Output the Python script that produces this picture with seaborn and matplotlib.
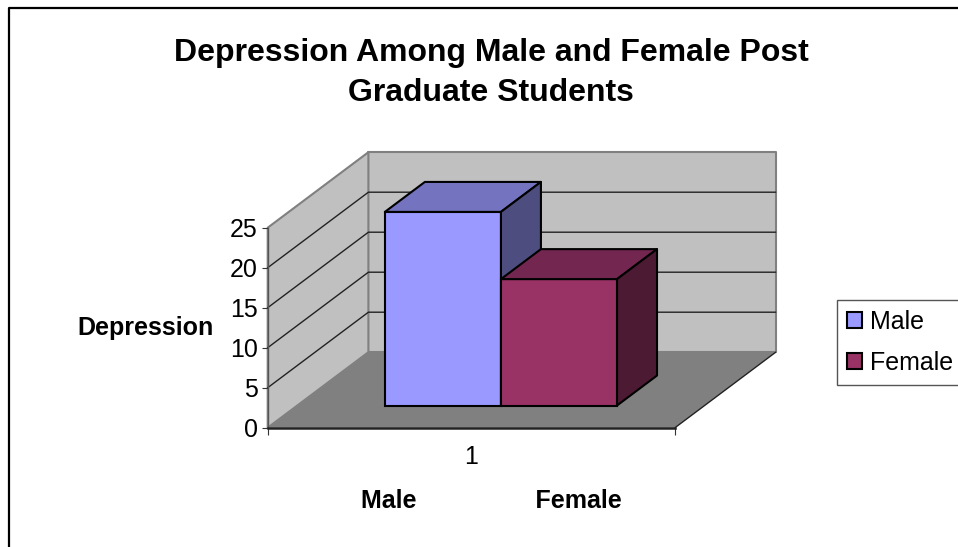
import matplotlib
matplotlib.use("Agg")
from matplotlib import pyplot as plt
from matplotlib.lines import Line2D
from matplotlib.patches import Polygon
import pandas as pd
import seaborn as sns

# values
categories = ["1"]
series_names = ["Male", "Female"]
male_values = [24.2]
female_values = [15.8]
y_ticks = [0, 5, 10, 15, 20, 25]

front_colors = ["#9999FF", "#993366"]
top_colors = ["#7373BF", "#732650"]
side_colors = ["#4D4D80", "#4D1A33"]
wall_color = "#C0C0C0"
floor_color = "#808080"

W, H = 958, 547

# oblique projection, depth 1 is the back wall
DEPTH_X = 100.7 / 407.3
DEPTH_Y = 75.5 / 8.0
BAR_FRONT = 0.294
BAR_BACK = 0.691


def project(x, y, d):
    return (x + d * DEPTH_X, y + d * DEPTH_Y)


def face(ax, points, color, edge="black", lw=1.5, z=3):
    poly = Polygon([project(*p) for p in points], closed=True, facecolor=color,
                   edgecolor=edge, linewidth=lw, clip_on=False, zorder=z, joinstyle="round")
    ax.add_patch(poly)


sns.set_theme(style="white")
plt.rcParams["font.family"] = ["Liberation Sans", "DejaVu Sans"]
plt.rcParams["text.color"] = "black"

data = pd.DataFrame({
    "group": categories * 2,
    "sex": series_names,
    "depression": male_values + female_values,
})

fig = plt.figure(figsize=(W / 100, H / 100), dpi=100)
ax = fig.add_axes([267.7 / W, 1 - 427.7 / H, 407.3 / W, 200 / H])
ax.patch.set_visible(False)

sns.barplot(data=data, x="group", y="depression", hue="sex", palette=front_colors,
            width=0.57, gap=0, saturation=1, edgecolor="black", linewidth=1.5, ax=ax)
ax.set_xlim(-0.5, 0.5)
ax.set_ylim(0, 25)

# walls and floor behind the bars
xl, xr = -0.5, 0.5
top = 25
face(ax, [(xl, 0, 1), (xr, 0, 1), (xr, top, 1), (xl, top, 1)], wall_color, edge=floor_color, lw=1.5, z=0.5)
face(ax, [(xl, 0, 0), (xl, 0, 1), (xl, top, 1), (xl, top, 0)], wall_color, edge=floor_color, lw=1.5, z=0.5)
face(ax, [(xl, 0, 0), (xr, 0, 0), (xr, 0, 1), (xl, 0, 1)], floor_color, edge="none", lw=0, z=0.6)
ax.plot(*zip(project(xr, 0, 0), project(xr, 0, 1)), color="#222222", lw=1, clip_on=False, zorder=0.7)

for tick in y_ticks[1:-1]:
    ax.plot(*zip(project(xl, tick, 0), project(xl, tick, 1), project(xr, tick, 1)),
            color="#222222", lw=1, clip_on=False, zorder=0.7)

# seaborn draws the front faces; push them into the floor and add top and side
for i, container in enumerate(ax.containers):
    for bar in container:
        x0, w, h = bar.get_x(), bar.get_width(), bar.get_height()
        sx, sy = project(x0, 0, BAR_FRONT)
        bar.set_x(sx)
        bar.set_y(sy)
        bar.set_zorder(3 + i)
        bar.set_clip_on(False)
        face(ax, [(x0, h, BAR_FRONT), (x0 + w, h, BAR_FRONT), (x0 + w, h, BAR_BACK), (x0, h, BAR_BACK)],
             top_colors[i], z=3 + i)
        face(ax, [(x0 + w, 0, BAR_FRONT), (x0 + w, 0, BAR_BACK), (x0 + w, h, BAR_BACK), (x0 + w, h, BAR_FRONT)],
             side_colors[i], z=3 + i)

# axes
sns.despine(ax=ax, top=True, right=True)
ax.spines["left"].set_color("#555555")
ax.spines["left"].set_linewidth(1)
ax.spines["bottom"].set_color("#222222")
ax.spines["bottom"].set_linewidth(1.8)
ax.set_yticks(y_ticks)
ax.tick_params(axis="y", left=True, length=4.5, width=0.8, color="#333333", labelsize=18,
               pad=2.5, labelcolor="black")
ax.set_xticks([0], categories)
ax.set_xticks([xl, xr], minor=True)
ax.tick_params(axis="x", which="major", bottom=False, labelsize=18, pad=6.5, labelcolor="black")
ax.tick_params(axis="x", which="minor", bottom=True, length=5, width=0.8, color="#333333")

ax.set_ylabel("Depression", rotation=0, fontsize=18, fontweight="bold", color="black",
              ha="center", va="center")
ax.yaxis.set_label_coords((145 - 267.7) / 407.3, (427.7 - 328) / 200)
ax.set_xlabel("Male" + " " * 17 + "Female", fontsize=18, fontweight="bold", color="black",
              ha="center", va="center")
ax.xaxis.set_label_coords((491.5 - 267.7) / 407.3, (427.7 - 501) / 200)

fig.suptitle("Depression Among Male and Female Post\nGraduate Students", x=491 / W, y=1 - 38 / H,
             fontsize=23, fontweight="bold", color="black", va="top", linespacing=1.42)

# legend box runs off the right edge as in the picture
handles, labels = ax.get_legend_handles_labels()
leg = ax.legend(handles, labels, loc="upper left", bbox_to_anchor=(837.3 / W, 1 - 300 / H),
                bbox_transform=fig.transFigure, borderaxespad=0, borderpad=0.4, fontsize=18,
                handlelength=0.6, handleheight=0.6, handletextpad=0.3, labelspacing=0.68,
                frameon=True, fancybox=False, framealpha=1, edgecolor="#555555", title=None)
leg.get_frame().set_linewidth(1)

# outer chart frame, only left and top fall inside the image
fig.add_artist(Line2D([9 / W, 9 / W, 1], [0, 1 - 8 / H, 1 - 8 / H], color="black", lw=1.6))

fig.savefig("out.png", dpi=100)
